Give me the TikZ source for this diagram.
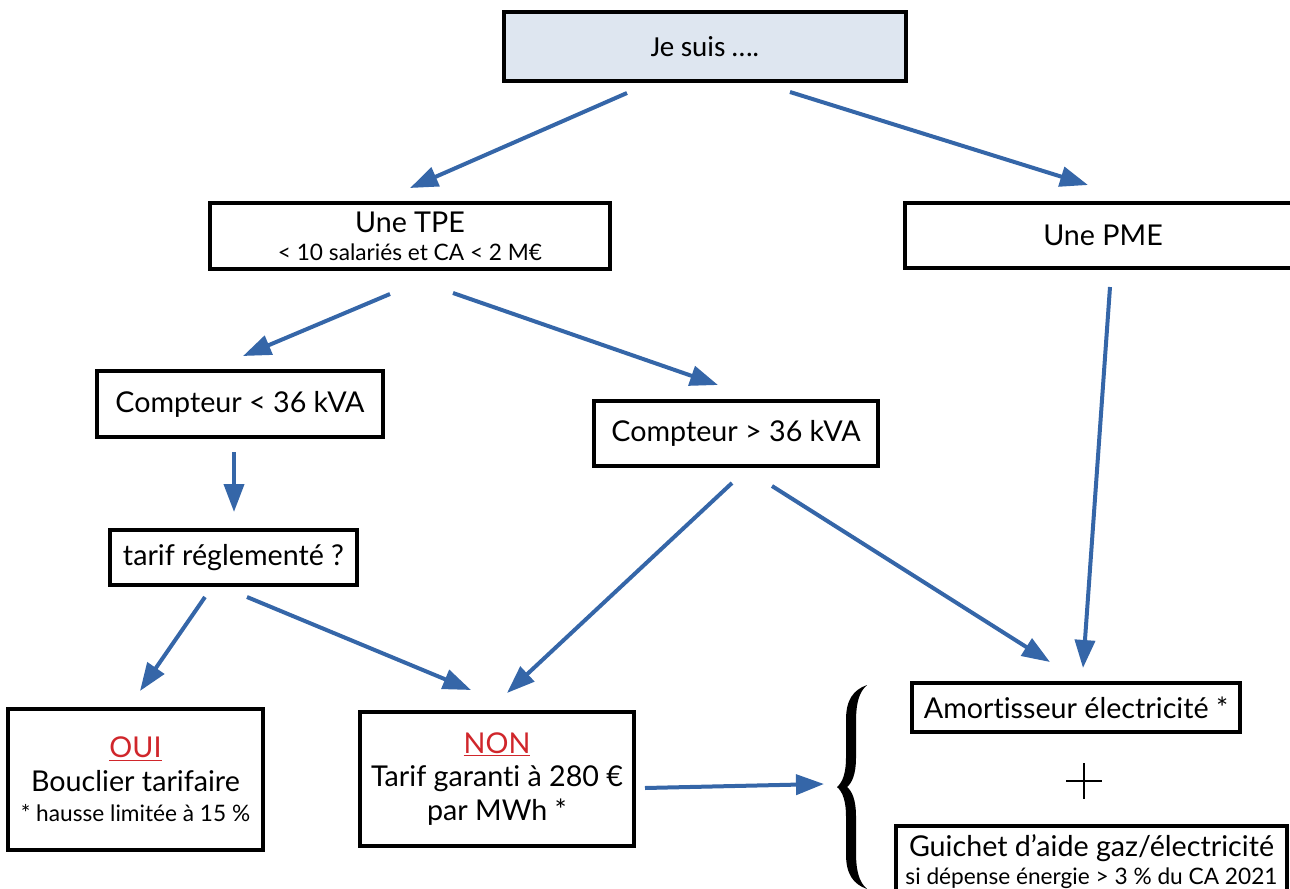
\documentclass[tikz,border=0pt]{standalone}
\usepackage{fontspec}
\setmainfont{Lato}[Ligatures=NoCommon]
\newfontfamily\calib{Carlito}
\usetikzlibrary{arrows.meta}
\definecolor{arr}{HTML}{3566A8}
\definecolor{topfill}{HTML}{DEE6F0}
\definecolor{redt}{HTML}{D0262B}
\newcommand{\fsM}{\fontsize{21.5pt}{25pt}\selectfont}
\newcommand{\fsS}{\fontsize{17pt}{20pt}\selectfont}
\begin{document}
\begin{tikzpicture}[x=0.75pt,y=-0.75pt,
  box/.style={draw=black,line width=3pt,fill=white,inner sep=0pt,align=center,font=\fsM},
  conn/.style={draw=arr,line width=3pt,-{Triangle[length=21pt,width=15pt]}},
]
\useasboundingbox (0,0) rectangle (1290,889);
% boxes
\node[box,fill=topfill,minimum width=301.5pt,minimum height=51.75pt] (top) at (705,46.5) {\calib\fontsize{21.8pt}{25pt}\selectfont Je suis ….};
\node[box,minimum width=300pt,minimum height=49.5pt] (tpe) at (410,236) {Une TPE\\[-4pt]{\fsS < 10 salariés et CA < 2 M€}};
\node[box,minimum width=297pt,minimum height=48.75pt] (pme) at (1103,235.5) {Une PME};
\node[box,minimum width=214.5pt,minimum height=49.5pt] (c1) at (240,404) {Compteur < 36 kVA};
\node[box,minimum width=213pt,minimum height=48.75pt] (c2) at (736,433.5) {Compteur > 36 kVA};
\node[box,minimum width=185.25pt,minimum height=41.25pt] (tarif) at (233.5,557.5) {tarif réglementé ?};
\node[box,minimum width=191.25pt,minimum height=105.75pt] (oui) at (135.5,779.5) {\textcolor{redt}{\underline{OUI}}\\Bouclier tarifaire\\[-2pt]{\fsS * hausse limitée à 15 \%}};
\node[box,minimum width=205.5pt,minimum height=100.5pt] (non) at (497,779) {\textcolor{redt}{\underline{NON}}\\Tarif garanti à 280 €\\par MWh *};
\node[box,minimum width=246pt,minimum height=36.75pt] (amort) at (1076,707.5) {Amortisseur électricité *};
\node[box,minimum width=293.25pt,minimum height=53.25pt] (guichet) at (1091.5,861.5) {Guichet d’aide gaz/électricité\\[-4pt]{\fsS si dépense énergie > 3 \% du CA 2021}};
% brace and plus
\fill[black] (867,685) .. controls (853,690) and (846,700) .. (846,720)
  -- (846,758) .. controls (846,772) and (843,782) .. (837,787)
  .. controls (843,792) and (846,802) .. (846,816)
  -- (846,854) .. controls (846,874) and (853,884) .. (867,889)
  .. controls (859,882) and (856,871) .. (856,852)
  -- (856,816) .. controls (856,800) and (852,791) .. (847,787)
  .. controls (852,783) and (856,774) .. (856,758)
  -- (856,722) .. controls (856,703) and (859,692) .. (867,685) -- cycle;
\draw[line width=2.2pt] (1066,781) -- (1102,781);
\draw[line width=2.2pt] (1084,763) -- (1084,799);
% arrow end points
\coordinate (a1s) at (627,93);   \coordinate (a1e) at (410,188);
\coordinate (a2s) at (790,92);   \coordinate (a2e) at (1088,185);
\coordinate (a3s) at (390,294);  \coordinate (a3e) at (243,356);
\coordinate (a4s) at (453,293);  \coordinate (a4e) at (718,385);
\coordinate (a5s) at (234,452);  \coordinate (a5e) at (234,512);
\coordinate (a6s) at (205,597);  \coordinate (a6e) at (140,691);
\coordinate (a7s) at (247,597);  \coordinate (a7e) at (471,690);
\coordinate (a8s) at (732,483);  \coordinate (a8e) at (507,693);
\coordinate (a9s) at (772,486);  \coordinate (a9e) at (1050,662);
\coordinate (a10s) at (1110,287); \coordinate (a10e) at (1083,668);
\coordinate (a11s) at (645,788); \coordinate (a11e) at (824,784);
\foreach \i in {1,...,11} {\draw[conn] (a\i s) -- (a\i e);}
\end{tikzpicture}
\end{document}
